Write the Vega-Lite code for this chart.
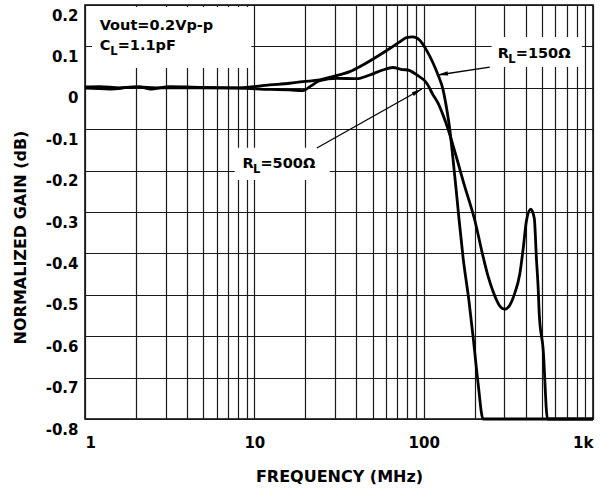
{
  "$schema": "https://vega.github.io/schema/vega-lite/v6.json",
  "width": 508,
  "height": 414,
  "autosize": "none",
  "padding": {"left": 85, "top": 5, "right": 23, "bottom": 70},
  "background": "white",
  "config": {
    "font": "DejaVu Sans",
    "view": {"stroke": "#000", "strokeWidth": 1.5},
    "axis": {
      "grid": true,
      "gridColor": "#1a1a1a",
      "gridWidth": 1.2,
      "gridOpacity": 1,
      "domain": false,
      "ticks": false,
      "labelFont": "DejaVu Sans",
      "labelFontWeight": "bold",
      "labelFontSize": 15,
      "labelColor": "#000",
      "titleFont": "DejaVu Sans",
      "titleFontWeight": "bold",
      "titleFontSize": 16,
      "titleColor": "#000"
    }
  },
  "datasets": {
    "curves": [
      {"x": 1.0, "y": 0.002, "load": "150"},
      {"x": 1.221, "y": 0.003, "load": "150"},
      {"x": 1.603, "y": 0.0, "load": "150"},
      {"x": 2.104, "y": 0.002, "load": "150"},
      {"x": 2.411, "y": -0.003, "load": "150"},
      {"x": 3.165, "y": 0.003, "load": "150"},
      {"x": 4.759, "y": 0.001, "load": "150"},
      {"x": 8.2, "y": 0.0, "load": "150"},
      {"x": 12.33, "y": 0.007, "load": "150"},
      {"x": 16.19, "y": 0.011, "load": "150"},
      {"x": 19.32, "y": 0.015, "load": "150"},
      {"x": 24.34, "y": 0.019, "load": "150"},
      {"x": 29.05, "y": 0.027, "load": "150"},
      {"x": 36.61, "y": 0.039, "load": "150"},
      {"x": 43.68, "y": 0.055, "load": "150"},
      {"x": 52.84, "y": 0.075, "load": "150"},
      {"x": 63.06, "y": 0.095, "load": "150"},
      {"x": 72.25, "y": 0.111, "load": "150"},
      {"x": 79.14, "y": 0.121, "load": "150"},
      {"x": 86.23, "y": 0.123, "load": "150"},
      {"x": 94.84, "y": 0.115, "load": "150"},
      {"x": 103.9, "y": 0.091, "load": "150"},
      {"x": 113.6, "y": 0.06, "load": "150"},
      {"x": 121.6, "y": 0.031, "load": "150"},
      {"x": 130.2, "y": -0.005, "load": "150"},
      {"x": 136.4, "y": -0.048, "load": "150"},
      {"x": 142.6, "y": -0.1, "load": "150"},
      {"x": 148.0, "y": -0.16, "load": "150"},
      {"x": 155.0, "y": -0.24, "load": "150"},
      {"x": 162.0, "y": -0.32, "load": "150"},
      {"x": 170.9, "y": -0.41, "load": "150"},
      {"x": 184.9, "y": -0.513, "load": "150"},
      {"x": 195.8, "y": -0.601, "load": "150"},
      {"x": 209.6, "y": -0.714, "load": "150"},
      {"x": 224.3, "y": -0.8, "load": "150"},
      {"x": 1000, "y": -0.8, "load": "150"},
      {"x": 1.0, "y": -0.001, "load": "500"},
      {"x": 1.399, "y": -0.003, "load": "500"},
      {"x": 1.966, "y": 0.002, "load": "500"},
      {"x": 2.763, "y": 0.0, "load": "500"},
      {"x": 4.759, "y": 0.0, "load": "500"},
      {"x": 8.2, "y": -0.001, "load": "500"},
      {"x": 12.33, "y": -0.004, "load": "500"},
      {"x": 16.19, "y": -0.005, "load": "500"},
      {"x": 19.32, "y": -0.007, "load": "500"},
      {"x": 21.5, "y": 0.004, "load": "500"},
      {"x": 24.34, "y": 0.017, "load": "500"},
      {"x": 30.67, "y": 0.023, "load": "500"},
      {"x": 40.25, "y": 0.022, "load": "500"},
      {"x": 48.05, "y": 0.031, "load": "500"},
      {"x": 57.33, "y": 0.043, "load": "500"},
      {"x": 65.68, "y": 0.049, "load": "500"},
      {"x": 75.25, "y": 0.044, "load": "500"},
      {"x": 80.56, "y": 0.043, "load": "500"},
      {"x": 91.07, "y": 0.031, "load": "500"},
      {"x": 104.3, "y": 0.011, "load": "500"},
      {"x": 113.6, "y": -0.017, "load": "500"},
      {"x": 121.6, "y": -0.037, "load": "500"},
      {"x": 130.2, "y": -0.066, "load": "500"},
      {"x": 139.4, "y": -0.1, "load": "500"},
      {"x": 148.0, "y": -0.135, "load": "500"},
      {"x": 158.0, "y": -0.175, "load": "500"},
      {"x": 170.9, "y": -0.225, "load": "500"},
      {"x": 200.4, "y": -0.32, "load": "500"},
      {"x": 225.0, "y": -0.41, "load": "500"},
      {"x": 240.0, "y": -0.455, "load": "500"},
      {"x": 257.0, "y": -0.492, "load": "500"},
      {"x": 281.5, "y": -0.527, "load": "500"},
      {"x": 301.3, "y": -0.535, "load": "500"},
      {"x": 322.5, "y": -0.525, "load": "500"},
      {"x": 345.2, "y": -0.496, "load": "500"},
      {"x": 369.5, "y": -0.45, "load": "500"},
      {"x": 386.6, "y": -0.39, "load": "500"},
      {"x": 405.0, "y": -0.32, "load": "500"},
      {"x": 429.2, "y": -0.293, "load": "500"},
      {"x": 450.0, "y": -0.315, "load": "500"},
      {"x": 463.8, "y": -0.416, "load": "500"},
      {"x": 474.0, "y": -0.48, "load": "500"},
      {"x": 482.0, "y": -0.55, "load": "500"},
      {"x": 507.4, "y": -0.63, "load": "500"},
      {"x": 538.6, "y": -0.8, "load": "500"},
      {"x": 1000, "y": -0.8, "load": "500"}
    ],
    "boxes": [
      {"x": 1.1, "x2": 9.6, "y": 0.195, "y2": 0.048},
      {"x": 7.66, "x2": 27.9, "y": -0.145, "y2": -0.223},
      {"x": 252, "x2": 859, "y": 0.123, "y2": 0.05}
    ],
    "arrows": [
      {"x": 23.4, "y": -0.1454, "x2": 97.4, "y2": -0.0029},
      {"x": 245.7, "y": 0.05, "x2": 121.1, "y2": 0.0309}
    ],
    "head500": [{"x": 91.8, "y": -0.0089}],
    "head150": [{"x": 129.5, "y": 0.0328}],
    "note": [{"x": 1.221, "y": 0.1396, "text": "Vout=0.2Vp-p"}],
    "labels": [
      {"x": 1.221, "y": 0.0913, "main": "C", "sub": "L", "rest": "=1.1pF"},
      {"x": 8.51, "y": -0.1937, "main": "R", "sub": "L", "rest": "=500Ω"},
      {"x": 274.0, "y": 0.072, "main": "R", "sub": "L", "rest": "=150Ω"}
    ]
  },
  "encoding": {
    "x": {
      "field": "x", "type": "quantitative",
      "scale": {"type": "log", "domain": [1, 1000]},
      "axis": {
        "title": "FREQUENCY (MHz)",
        "values": [1,2,3,4,5,6,7,8,9,10,20,30,40,50,60,70,80,90,100,200,300,400,500,600,700,800,900,1000],
        "labelExpr": "datum.value == 1 ? '1' : datum.value == 10 ? '10' : datum.value == 100 ? '100' : datum.value == 1000 ? '1k' : ''",
        "labelPadding": 16,
        "labelOverlap": false,
        "titleY": 62,
        "titleBaseline": "alphabetic"
      }
    },
    "y": {
      "field": "y", "type": "quantitative",
      "scale": {"domain": [-0.8, 0.2], "nice": false, "zero": false},
      "axis": {
        "title": "NORMALIZED GAIN (dB)",
        "values": [-0.8,-0.7,-0.6,-0.5,-0.4,-0.3,-0.2,-0.1,0,0.1,0.2],
        "labelExpr": "datum.value == 0 ? '0' : (datum.value < 0 ? '-' : '') + format(abs(datum.value), '.1f')",
        "labelPadding": 7,
        "labelOffset": 10,
        "labelOverlap": false,
        "titleX": -65,
        "titleY": 232,
        "titleAngle": 270,
        "titleAlign": "center",
        "titleBaseline": "middle"
      }
    }
  },
  "layer": [
    {
      "data": {"name": "boxes"},
      "mark": {"type": "rect", "color": "white", "opacity": 1},
      "encoding": {
        "x2": {"field": "x2"},
        "y2": {"field": "y2"}
      }
    },
    {
      "data": {"name": "curves"},
      "mark": {"type": "line", "color": "#000", "strokeWidth": 2.8, "interpolate": "monotone", "clip": false},
      "encoding": {
        "detail": {"field": "load", "type": "nominal"}
      }
    },
    {
      "data": {"name": "arrows"},
      "mark": {"type": "rule", "color": "#000", "strokeWidth": 1.3},
      "encoding": {
        "x2": {"field": "x2"},
        "y2": {"field": "y2"}
      }
    },
    {
      "data": {"name": "head500"},
      "mark": {"type": "point", "shape": "M0,-1L0.4,1L-0.4,1Z", "filled": true, "color": "#000", "opacity": 1, "size": 110, "angle": 60.7},
      "encoding": {}
    },
    {
      "data": {"name": "head150"},
      "mark": {"type": "point", "shape": "M0,-1L0.4,1L-0.4,1Z", "filled": true, "color": "#000", "opacity": 1, "size": 110, "angle": 261.3},
      "encoding": {}
    },
    {
      "data": {"name": "note"},
      "mark": {"type": "text", "align": "left", "baseline": "alphabetic", "font": "DejaVu Sans", "fontWeight": "bold", "fontSize": 14.5, "color": "#000"},
      "encoding": {
        "text": {"field": "text"}
      }
    },
    {
      "data": {"name": "labels"},
      "mark": {"type": "text", "align": "left", "baseline": "alphabetic", "font": "DejaVu Sans", "fontWeight": "bold", "fontSize": 14.5, "color": "#000"},
      "encoding": {
        "text": {"field": "main"}
      }
    },
    {
      "data": {"name": "labels"},
      "mark": {"type": "text", "align": "left", "baseline": "alphabetic", "font": "DejaVu Sans", "fontWeight": "bold", "fontSize": 11.5, "color": "#000", "dx": 10.5, "dy": 5},
      "encoding": {
        "text": {"field": "sub"}
      }
    },
    {
      "data": {"name": "labels"},
      "mark": {"type": "text", "align": "left", "baseline": "alphabetic", "font": "DejaVu Sans", "fontWeight": "bold", "fontSize": 14.5, "color": "#000", "dx": 18},
      "encoding": {
        "text": {"field": "rest"}
      }
    }
  ]
}
